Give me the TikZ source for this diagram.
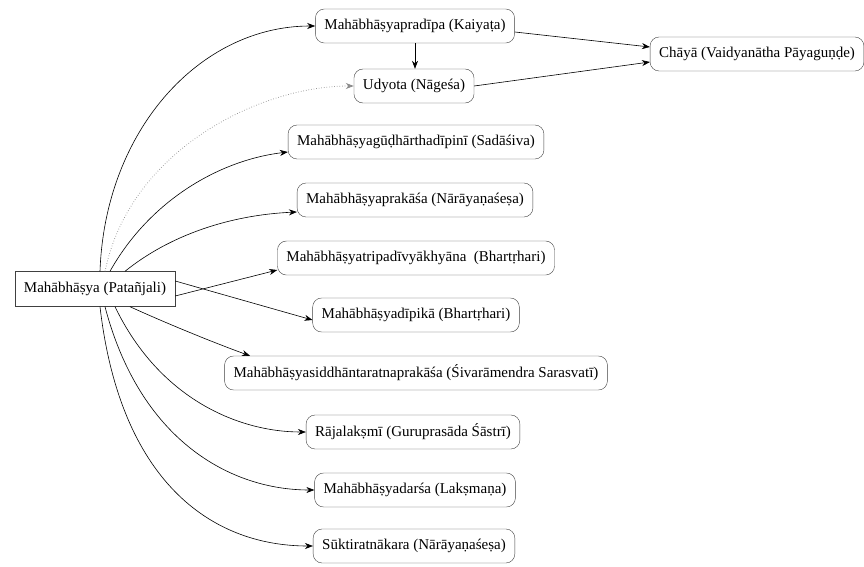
\documentclass[tikz,border=0pt]{standalone}
\usepackage{fontspec}
\setmainfont{Liberation Serif}
\usetikzlibrary{arrows.meta}
\begin{document}
\begin{tikzpicture}[x=1pt,y=-1pt,
  work/.style={draw=black!75, rounded corners=9pt, minimum height=34pt, inner xsep=9pt, font=\fontsize{15}{17}\selectfont, fill=white},
  root/.style={draw=black!75, minimum height=35pt, inner xsep=9pt, font=\fontsize{15}{17}\selectfont},
  edge/.style={draw=black, line width=0.6pt, -{Stealth[length=8pt,width=6pt]}},
  dotedge/.style={edge, draw=black!45, dotted, line width=0.8pt}]
\useasboundingbox (0,0) rectangle (864,567);
\node[root] (pat) at (95,289) {Mahābhāṣya (Patañjali)};
\node[work] (prad) at (415,26) {Mahābhāṣyapradīpa (Kaiyaṭa)};
\node[work] (udd) at (414,86) {Udyota (Nāgeśa)};
\node[work] (chaya) at (757,54) {Chāyā (Vaidyanātha Pāyaguṇḍe)};
\node[work] (gudha) at (416,142) {Mahābhāṣyagūḍhārthadīpinī (Sadāśiva)};
\node[work] (prak) at (415,200) {Mahābhāṣyaprakāśa (Nārāyaṇaśeṣa)};
\node[work] (trip) at (416,258) {Mahābhāṣyatripadīvyākhyāna\ \ (Bhartṛhari)};
\node[work] (dip) at (416,315) {Mahābhāṣyadīpikā (Bhartṛhari)};
\node[work] (sidd) at (416,373) {Mahābhāṣyasiddhāntaratnaprakāśa (Śivarāmendra Sarasvatī)};
\node[work] (raja) at (413,432) {Rājalakṣmī (Guruprasāda Śāstrī)};
\node[work] (dars) at (415,490) {Mahābhāṣyadarśa (Lakṣmaṇa)};
\node[work] (sukti) at (414,546) {Sūktiratnākara (Nārāyaṇaśeṣa)};

\draw[edge] ([xshift=5pt]pat.north) .. controls (105,130) and (200,26) .. (prad.west);
\draw[dotedge] ([xshift=10pt]pat.north) .. controls (130,150) and (260,86) .. (udd.west);
\draw[edge] (prad.south) -- (prad.south |- udd.north);
\draw[edge] ([yshift=-6pt]prad.east) -- ([yshift=7pt]chaya.west);
\draw[edge] (udd.east) -- ([yshift=-8pt]chaya.west);
\draw[edge] ([xshift=15pt]pat.north) .. controls (150,200) and (220,160) .. ([yshift=-10pt]gudha.west);
\draw[edge] ([xshift=30pt]pat.north) .. controls (170,235) and (230,215) .. ([yshift=-12pt]prak.west);
\draw[edge] ([yshift=-7pt]pat.east) -- ([yshift=-12pt]trip.west);
\draw[edge] ([yshift=8pt]pat.east) -- ([yshift=-5pt]dip.west);
\draw[edge] ([xshift=35pt]pat.south) .. controls (170,325) and (220,345) .. ([xshift=-166pt]sidd.north);
\draw[edge] ([xshift=20pt]pat.south) .. controls (160,400) and (240,432) .. (raja.west);
\draw[edge] ([xshift=10pt]pat.south) .. controls (140,440) and (230,490) .. (dars.west);
\draw[edge] ([xshift=5pt]pat.south) .. controls (120,480) and (210,546) .. (sukti.west);
\end{tikzpicture}
\end{document}
